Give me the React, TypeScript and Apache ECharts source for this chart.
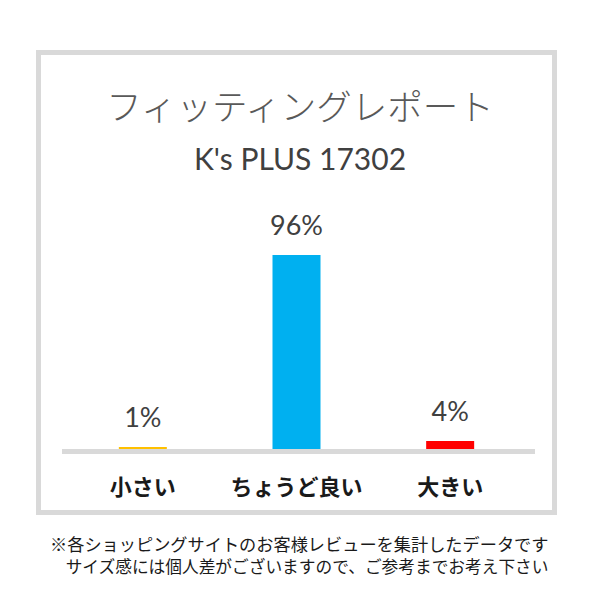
import { useEffect, useRef } from "react";
import * as echarts from "echarts";

const categories = ["小さい", "ちょうど良い", "大きい"];
const percents = [1, 96, 4];
const barColors = ["#ffc000", "#00b0f0", "#ff0000"];
const titleText = "フィッティングレポート";
const subtitleText = "K's PLUS 17302";
const noteLines = [
    "※各ショッピングサイトのお客様レビューを集計したデータです",
    "　サイズ感には個人差がございますので、ご参考までお考え下さい",
];

const JP = "'Noto Sans CJK JP', 'Noto Sans', sans-serif";
const LATIN = "Lato, 'Noto Sans CJK JP', sans-serif";

export default function App() {
    const chartRef = useRef<HTMLDivElement>(null);

    useEffect(() => {
        if (!chartRef.current) return;
        const chart = echarts.init(chartRef.current, undefined, { renderer: "svg" });

        const options: echarts.EChartsOption = {
            animation: false,
            backgroundColor: "#ffffff",
            title: [
                {
                    text: titleText,
                    left: "center",
                    top: 82,
                    textStyle: {
                        fontFamily: JP,
                        fontSize: 35.5,
                        fontWeight: 300,
                        color: "#595959",
                        lineHeight: 35,
                    },
                },
                {
                    text: subtitleText,
                    left: "center",
                    top: 138,
                    textStyle: {
                        fontFamily: LATIN,
                        fontSize: 30,
                        fontWeight: "normal",
                        color: "#404040",
                        lineHeight: 30,
                    },
                },
            ],
            grid: { left: 66, right: 73, top: 247, bottom: 151 },
            xAxis: {
                type: "category",
                data: categories,
                axisLine: { show: false },
                axisTick: { show: false },
                axisLabel: {
                    interval: 0,
                    margin: 25,
                    fontFamily: JP,
                    fontSize: 22,
                    fontWeight: "bold",
                    color: "#1a1a1a",
                },
            },
            yAxis: {
                type: "value",
                min: 0,
                max: 100,
                show: false,
                splitLine: { show: false },
            },
            series: [
                {
                    type: "bar",
                    data: percents.map((v, i) => ({
                        value: v,
                        itemStyle: { color: barColors[i] },
                    })),
                    barWidth: 48,
                    label: {
                        show: true,
                        position: "top",
                        distance: 17,
                        fontFamily: LATIN,
                        fontSize: 27,
                        color: "#404040",
                        formatter: (p: any) => `${p.value}%`,
                    },
                },
            ],
            graphic: [
                {
                    type: "rect",
                    shape: { x: 38.5, y: 52.5, width: 516, height: 460 },
                    style: { fill: "none", stroke: "#d9d9d9", lineWidth: 5 },
                    silent: true,
                },
                {
                    type: "rect",
                    shape: { x: 62, y: 449, width: 473, height: 5 },
                    style: { fill: "#d9d9d9" },
                    silent: true,
                },
                {
                    type: "text",
                    x: 50,
                    y: 543,
                    style: {
                        text: noteLines[0],
                        fontFamily: JP,
                        fontSize: 17.2,
                        fill: "#1a1a1a",
                        verticalAlign: "middle",
                    },
                },
                {
                    type: "text",
                    x: 49,
                    y: 566,
                    style: {
                        text: noteLines[1],
                        fontFamily: JP,
                        fontSize: 16.7,
                        fill: "#1a1a1a",
                        verticalAlign: "middle",
                    },
                },
            ],
        };

        chart.setOption(options);
        return () => chart.dispose();
    }, []);

    return (
        <div
            ref={chartRef}
            style={{ position: "fixed", left: 0, top: 0, width: "600px", height: "600px" }}
        />
    );
}
